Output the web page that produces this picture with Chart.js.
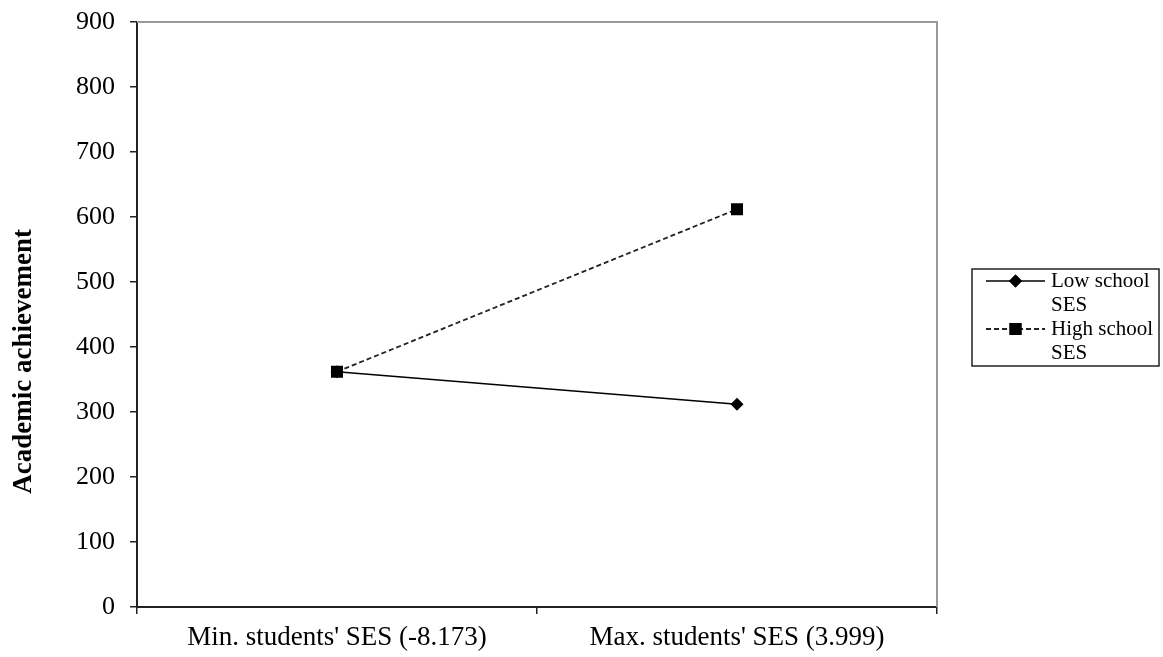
<!DOCTYPE html>
<html>
<head>
<meta charset="utf-8">
<script src="https://cdn.jsdelivr.net/npm/chart.js@4.4.0/dist/chart.umd.min.js"></script>
<style>
  html, body { margin: 0; padding: 0; background: #fff; }
  #wrap { width: 1163px; height: 657px; }
</style>
</head>
<body>
<div id="wrap"><canvas id="myChart" width="1163" height="657"></canvas></div>
<script>
// chart data
var categories = ["Min. students' SES (-8.173)", "Max. students' SES (3.999)"];
var lowSchool = [362, 312];
var highSchool = [362, 612];
var seriesNames = [['Low school', 'SES'], ['High school', 'SES']];
var yMin = 0, yMax = 900, yStep = 100;
var yTitle = 'Academic achievement';

var serif = "'Liberation Serif', 'Times New Roman', serif";

// gray frame on top and right of plot area
var framePlugin = {
  id: 'frame',
  beforeDatasetsDraw: function (chart) {
    var a = chart.chartArea, ctx = chart.ctx;
    ctx.save();
    ctx.strokeStyle = '#999';
    ctx.lineWidth = 2;
    ctx.beginPath();
    ctx.moveTo(a.left, a.top);
    ctx.lineTo(a.right, a.top);
    ctx.lineTo(a.right, a.bottom);
    ctx.stroke();
    ctx.restore();
  }
};

// y axis title, sits a bit below the middle like the original
var yTitlePlugin = {
  id: 'yTitle',
  afterDraw: function (chart) {
    var a = chart.chartArea, ctx = chart.ctx;
    ctx.save();
    ctx.translate(24, a.top + (a.bottom - a.top) * 0.58);
    ctx.rotate(-Math.PI / 2);
    ctx.font = 'bold 27px ' + serif;
    ctx.fillStyle = '#000';
    ctx.textAlign = 'center';
    ctx.textBaseline = 'middle';
    ctx.fillText(yTitle, 0, 0);
    ctx.restore();
  }
};

// boxed legend with wrapped labels
var legendPlugin = {
  id: 'boxLegend',
  afterDraw: function (chart) {
    var a = chart.chartArea, ctx = chart.ctx;
    var bx = a.right + 35, by = 269, bw = 187, bh = 97;
    ctx.save();
    ctx.strokeStyle = '#222';
    ctx.lineWidth = 1.5;
    ctx.strokeRect(bx, by, bw, bh);
    ctx.font = '21px ' + serif;
    ctx.fillStyle = '#000';
    ctx.textBaseline = 'middle';
    var rowH = 24;
    var y = by + 12;
    chart.data.datasets.forEach(function (ds, i) {
      var lx0 = bx + 14, lx1 = bx + 73, mx = (lx0 + lx1) / 2;
      ctx.strokeStyle = ds.borderColor;
      ctx.lineWidth = ds.borderWidth;
      ctx.setLineDash(ds.borderDash || []);
      ctx.beginPath();
      ctx.moveTo(lx0, y);
      ctx.lineTo(lx1, y);
      ctx.stroke();
      ctx.setLineDash([]);
      Chart.helpers.drawPoint(ctx, {
        pointStyle: ds.pointStyle, radius: ds.pointRadius, borderWidth: 0
      }, mx, y);
      ctx.fillStyle = '#000';
      ctx.fill();
      seriesNames[i].forEach(function (t, k) {
        ctx.fillText(t, bx + 79, y + k * rowH);
      });
      y += rowH * seriesNames[i].length;
    });
    ctx.restore();
  }
};

var ctx = document.getElementById('myChart').getContext('2d');
var myChart = new Chart(ctx, {
  type: 'line',
  data: {
    labels: categories,
    datasets: [{
      label: 'Low school SES',
      data: lowSchool,
      borderColor: '#000',
      backgroundColor: '#000',
      borderWidth: 1.6,
      pointStyle: 'rectRot',
      pointRadius: 6.5,
      pointBorderWidth: 0,
      order: 1
    }, {
      label: 'High school SES',
      data: highSchool,
      borderColor: '#222',
      backgroundColor: '#000',
      borderWidth: 1.8,
      borderDash: [5, 3],
      pointStyle: 'rect',
      pointRadius: 8.5,
      pointBorderWidth: 0,
      order: 0
    }]
  },
  options: {
    responsive: false,
    animation: false,
    layout: { padding: { left: 0, top: 22, right: 226, bottom: 0 } },
    plugins: {
      legend: { display: false },
      tooltip: { enabled: false }
    },
    scales: {
      x: {
        type: 'category',
        offset: true,
        grid: {
          offset: true,
          drawOnChartArea: false,
          tickLength: 7,
          color: '#222',
          lineWidth: 1.5
        },
        border: { color: '#222', width: 2 },
        ticks: {
          color: '#000',
          padding: 8,
          maxRotation: 0,
          font: { family: serif, size: 27 }
        },
        afterFit: function (scale) {
          scale.height = 50;
          scale.paddingLeft = 0;
          scale.paddingRight = 0;
        }
      },
      y: {
        min: yMin,
        max: yMax,
        grid: {
          drawOnChartArea: false,
          tickLength: 7,
          color: '#222',
          lineWidth: 1.5
        },
        border: { color: '#222', width: 2 },
        ticks: {
          stepSize: yStep,
          color: '#000',
          padding: 15,
          font: { family: serif, size: 26 }
        },
        afterFit: function (scale) {
          scale.width = 137;
          scale.paddingTop = 0;
          scale.paddingBottom = 0;
        }
      }
    }
  },
  plugins: [framePlugin, yTitlePlugin, legendPlugin]
});
</script>
</body>
</html>
